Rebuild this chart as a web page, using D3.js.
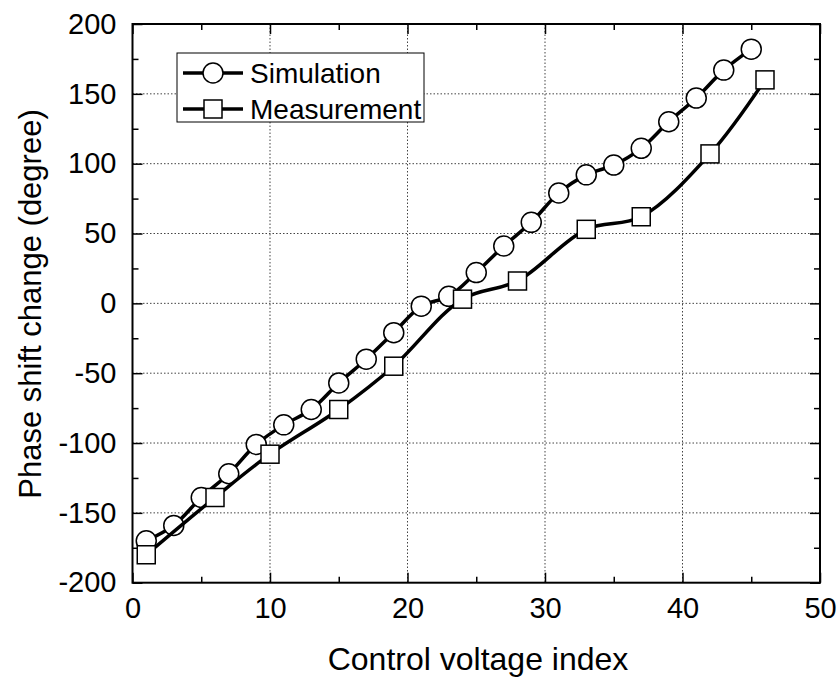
<!DOCTYPE html>
<html>
<head>
<meta charset="utf-8">
<script src="https://cdn.jsdelivr.net/npm/d3@7"></script>
<style>
    body { margin: 0; background: #fff; }
    svg text { font-family: "Liberation Sans", Arial, sans-serif; fill: #000; }
</style>
</head>
<body>
<div class="chart"></div>
<script>
// data
const simX = [1, 3, 5, 7, 9, 11, 13, 15, 17, 19, 21, 23, 25, 27, 29, 31, 33, 35, 37, 39, 41, 43, 45];
const simY = [-170, -159, -139, -122, -101, -87, -76, -57, -40, -21, -2, 5, 22, 41, 58, 79, 92, 99, 111, 130, 147, 167, 182];
const measX = [1, 6, 10, 15, 19, 24, 28, 33, 37, 42, 46];
const measY = [-180, -139, -108, -76, -45, 3, 16, 53, 62, 107, 160];
const xTicks = [0, 10, 20, 30, 40, 50];
const yTicks = [-200, -150, -100, -50, 0, 50, 100, 150, 200];
const seriesNames = ['Simulation', 'Measurement'];

const svg_width = 840;
const svg_height = 678;
const margin = { top: 24, right: 20, bottom: 95, left: 132.5 };
const chart_width = 820 - margin.left;
const chart_height = 582.7 - margin.top;

const svg = d3.select('.chart')
    .append('svg')
    .attr('width', svg_width)
    .attr('height', svg_height);
const g = svg.append('g')
    .attr('transform', `translate(${margin.left},${margin.top})`);

const xScale = d3.scaleLinear([0, 50], [0, chart_width]);
const yScale = d3.scaleLinear([-200, 200], [chart_height, 0]);

// dotted grid on inner major ticks
g.append('g')
    .selectAll('line')
    .data(xTicks.slice(1, -1))
    .join('line')
    .attr('x1', d => xScale(d)).attr('x2', d => xScale(d))
    .attr('y1', 0).attr('y2', chart_height)
    .attr('stroke', '#444').attr('stroke-width', 1)
    .attr('stroke-dasharray', '1.5,2');
g.append('g')
    .selectAll('line')
    .data(yTicks.slice(1, -1))
    .join('line')
    .attr('y1', d => yScale(d)).attr('y2', d => yScale(d))
    .attr('x1', 0).attr('x2', chart_width)
    .attr('stroke', '#444').attr('stroke-width', 1)
    .attr('stroke-dasharray', '1.5,2');

// axes: ticks point inward, mirrored on top and right
function styleAxis(sel) {
    sel.select('.domain').remove();
    sel.selectAll('line').attr('stroke', '#000').attr('stroke-width', 1.5);
    sel.selectAll('text').style('font-size', '29px');
}
const fmt = d => String(d); // plain hyphen for negatives
const xMinor = d3.range(5, 50, 10);
const yMinor = d3.range(-175, 200, 50);

g.append('g').attr('transform', `translate(0,${chart_height})`)
    .call(d3.axisBottom(xScale).tickValues(xTicks).tickSize(-10).tickPadding(15).tickFormat(fmt))
    .call(styleAxis);
g.append('g').attr('transform', `translate(0,${chart_height})`)
    .call(d3.axisBottom(xScale).tickValues(xMinor).tickSize(-6).tickFormat(''))
    .call(styleAxis);
g.append('g')
    .call(d3.axisTop(xScale).tickValues(xTicks).tickSize(-10).tickFormat(''))
    .call(styleAxis);
g.append('g')
    .call(d3.axisTop(xScale).tickValues(xMinor).tickSize(-6).tickFormat(''))
    .call(styleAxis);
g.append('g')
    .call(d3.axisLeft(yScale).tickValues(yTicks).tickSize(-10).tickPadding(16).tickFormat(fmt))
    .call(styleAxis);
g.append('g')
    .call(d3.axisLeft(yScale).tickValues(yMinor).tickSize(-6).tickFormat(''))
    .call(styleAxis);
g.append('g').attr('transform', `translate(${chart_width},0)`)
    .call(d3.axisRight(yScale).tickValues(yTicks).tickSize(-10).tickFormat(''))
    .call(styleAxis);
g.append('g').attr('transform', `translate(${chart_width},0)`)
    .call(d3.axisRight(yScale).tickValues(yMinor).tickSize(-6).tickFormat(''))
    .call(styleAxis);

g.append('rect')
    .attr('width', chart_width).attr('height', chart_height)
    .attr('fill', 'none').attr('stroke', '#000').attr('stroke-width', 2);

// series
const line = d3.line()
    .x(d => xScale(d[0]))
    .y(d => yScale(d[1]))
    .curve(d3.curveCatmullRom.alpha(0.5));

const simData = simX.map((x, i) => [x, simY[i]]);
const measData = measX.map((x, i) => [x, measY[i]]);

g.append('path').datum(simData)
    .attr('d', line).attr('fill', 'none')
    .attr('stroke', '#000').attr('stroke-width', 3.5);
g.selectAll('.sim')
    .data(simData)
    .join('circle')
    .attr('class', 'sim')
    .attr('cx', d => xScale(d[0])).attr('cy', d => yScale(d[1]))
    .attr('r', 10)
    .attr('fill', '#fff').attr('stroke', '#000').attr('stroke-width', 1.5);

g.append('path').datum(measData)
    .attr('d', line).attr('fill', 'none')
    .attr('stroke', '#000').attr('stroke-width', 3.5);
g.selectAll('.meas')
    .data(measData)
    .join('rect')
    .attr('class', 'meas')
    .attr('x', d => xScale(d[0]) - 9).attr('y', d => yScale(d[1]) - 9)
    .attr('width', 18).attr('height', 18)
    .attr('fill', '#fff').attr('stroke', '#000').attr('stroke-width', 1.5);

// legend
const legend = svg.append('g').attr('transform', 'translate(177,53)');
legend.append('rect')
    .attr('width', 247).attr('height', 69)
    .attr('fill', '#fff').attr('stroke', '#000').attr('stroke-width', 1);
seriesNames.forEach((name, i) => {
    const row = legend.append('g').attr('transform', `translate(0,${20 + i * 36})`);
    row.append('line')
        .attr('x1', 6).attr('x2', 66)
        .attr('stroke', '#000').attr('stroke-width', 3.5);
    if (i === 0) {
        row.append('circle').attr('cx', 36).attr('r', 10)
            .attr('fill', '#fff').attr('stroke', '#000').attr('stroke-width', 1.5);
    } else {
        row.append('rect').attr('x', 27).attr('y', -9).attr('width', 18).attr('height', 18)
            .attr('fill', '#fff').attr('stroke', '#000').attr('stroke-width', 1.5);
    }
    row.append('text')
        .attr('x', 73).attr('dy', '0.36em')
        .style('font-size', '28px')
        .text(name);
});

// axis titles
svg.append('text')
    .attr('x', 478).attr('y', 670)
    .attr('text-anchor', 'middle')
    .style('font-size', '32px')
    .text('Control voltage index');
svg.append('text')
    .attr('transform', 'translate(41,304) rotate(-90)')
    .attr('text-anchor', 'middle')
    .style('font-size', '31px')
    .text('Phase shift change (degree)');
</script>
</body>
</html>
